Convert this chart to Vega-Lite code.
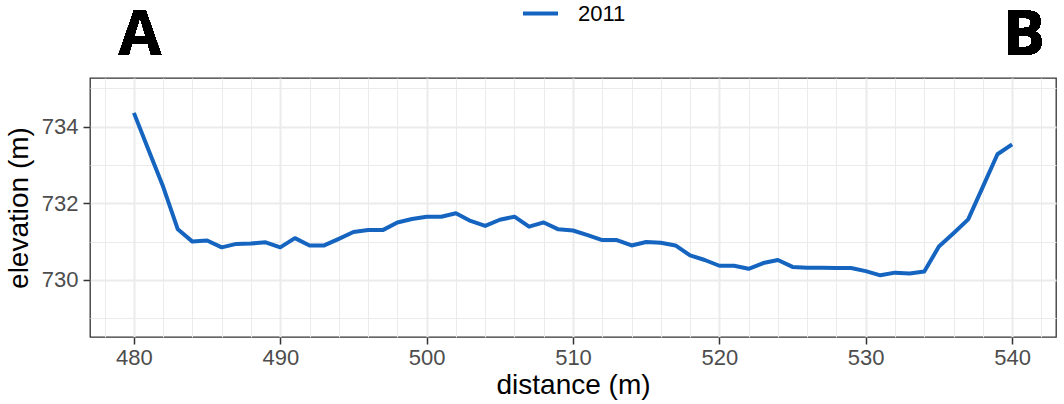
{
  "$schema": "https://vega.github.io/schema/vega-lite/v6.json",
  "width": 966,
  "height": 259,
  "autosize": "none",
  "padding": {"left": 90, "top": 78, "right": 8, "bottom": 67},
  "background": "white",
  "config": {
    "view": {"stroke": "#333333", "strokeWidth": 1.3},
    "font": "Liberation Sans"
  },
  "data": {
    "values": [
      {"distance": 480, "elevation": 734.36, "year": "2011"},
      {"distance": 481, "elevation": 733.39, "year": "2011"},
      {"distance": 482, "elevation": 732.43, "year": "2011"},
      {"distance": 483, "elevation": 731.32, "year": "2011"},
      {"distance": 484, "elevation": 731.0, "year": "2011"},
      {"distance": 485, "elevation": 731.03, "year": "2011"},
      {"distance": 486, "elevation": 730.85, "year": "2011"},
      {"distance": 487, "elevation": 730.94, "year": "2011"},
      {"distance": 488, "elevation": 730.95, "year": "2011"},
      {"distance": 489, "elevation": 730.98, "year": "2011"},
      {"distance": 490, "elevation": 730.85, "year": "2011"},
      {"distance": 491, "elevation": 731.09, "year": "2011"},
      {"distance": 492, "elevation": 730.9, "year": "2011"},
      {"distance": 493, "elevation": 730.9, "year": "2011"},
      {"distance": 494, "elevation": 731.07, "year": "2011"},
      {"distance": 495, "elevation": 731.25, "year": "2011"},
      {"distance": 496, "elevation": 731.3, "year": "2011"},
      {"distance": 497, "elevation": 731.3, "year": "2011"},
      {"distance": 498, "elevation": 731.5, "year": "2011"},
      {"distance": 499, "elevation": 731.59, "year": "2011"},
      {"distance": 500, "elevation": 731.65, "year": "2011"},
      {"distance": 501, "elevation": 731.65, "year": "2011"},
      {"distance": 502, "elevation": 731.74, "year": "2011"},
      {"distance": 503, "elevation": 731.54, "year": "2011"},
      {"distance": 504, "elevation": 731.41, "year": "2011"},
      {"distance": 505, "elevation": 731.57, "year": "2011"},
      {"distance": 506, "elevation": 731.65, "year": "2011"},
      {"distance": 507, "elevation": 731.39, "year": "2011"},
      {"distance": 508, "elevation": 731.5, "year": "2011"},
      {"distance": 509, "elevation": 731.32, "year": "2011"},
      {"distance": 510, "elevation": 731.29, "year": "2011"},
      {"distance": 511, "elevation": 731.17, "year": "2011"},
      {"distance": 512, "elevation": 731.04, "year": "2011"},
      {"distance": 513, "elevation": 731.04, "year": "2011"},
      {"distance": 514, "elevation": 730.9, "year": "2011"},
      {"distance": 515, "elevation": 730.99, "year": "2011"},
      {"distance": 516, "elevation": 730.97, "year": "2011"},
      {"distance": 517, "elevation": 730.9, "year": "2011"},
      {"distance": 518, "elevation": 730.64, "year": "2011"},
      {"distance": 519, "elevation": 730.52, "year": "2011"},
      {"distance": 520, "elevation": 730.37, "year": "2011"},
      {"distance": 521, "elevation": 730.37, "year": "2011"},
      {"distance": 522, "elevation": 730.29, "year": "2011"},
      {"distance": 523, "elevation": 730.44, "year": "2011"},
      {"distance": 524, "elevation": 730.52, "year": "2011"},
      {"distance": 525, "elevation": 730.34, "year": "2011"},
      {"distance": 526, "elevation": 730.32, "year": "2011"},
      {"distance": 527, "elevation": 730.32, "year": "2011"},
      {"distance": 528, "elevation": 730.31, "year": "2011"},
      {"distance": 529, "elevation": 730.31, "year": "2011"},
      {"distance": 530, "elevation": 730.23, "year": "2011"},
      {"distance": 531, "elevation": 730.12, "year": "2011"},
      {"distance": 532, "elevation": 730.19, "year": "2011"},
      {"distance": 533, "elevation": 730.17, "year": "2011"},
      {"distance": 534, "elevation": 730.22, "year": "2011"},
      {"distance": 535, "elevation": 730.87, "year": "2011"},
      {"distance": 536, "elevation": 731.22, "year": "2011"},
      {"distance": 537, "elevation": 731.58, "year": "2011"},
      {"distance": 538, "elevation": 732.43, "year": "2011"},
      {"distance": 539, "elevation": 733.28, "year": "2011"},
      {"distance": 540, "elevation": 733.54, "year": "2011"}
    ]
  },
  "resolve": {"axis": {"x": "independent", "y": "independent"}},
  "layer": [
    {
      "mark": {"type": "text", "font": "Open Sans", "fontWeight": "bold", "fontSize": 62, "baseline": "alphabetic", "align": "center", "dx": 6, "color": "#000000"},
      "encoding": {
        "x": {
          "datum": 480,
          "type": "quantitative",
          "scale": {"domain": [477, 543], "nice": false, "zero": false},
          "axis": {
            "orient": "bottom",
            "values": [478, 482, 484, 486, 488, 492, 494, 496, 498, 502, 504, 506, 508, 512, 514, 516, 518, 522, 524, 526, 528, 532, 534, 536, 538, 542],
            "title": null,
            "labels": false,
            "ticks": false,
            "domain": false,
            "grid": true,
            "gridColor": "#EBEBEB",
            "gridWidth": 1
          }
        },
        "y": {
          "datum": 735.87,
          "type": "quantitative",
          "scale": {"domain": [728.51, 735.27], "nice": false, "zero": false},
          "axis": {
            "orient": "left",
            "values": [729, 731, 733, 735],
            "title": null,
            "labels": false,
            "ticks": false,
            "domain": false,
            "grid": true,
            "gridColor": "#EBEBEB",
            "gridWidth": 1
          }
        },
        "text": {"value": "A"}
      }
    },
    {
      "mark": {"type": "line", "strokeWidth": 4, "strokeJoin": "round", "strokeCap": "butt"},
      "encoding": {
        "x": {
          "field": "distance",
          "type": "quantitative",
          "axis": {
            "orient": "bottom",
            "values": [480, 490, 500, 510, 520, 530, 540],
            "title": "distance (m)",
            "titleFontSize": 28,
            "titleFontWeight": "normal",
            "titleColor": "#000000",
            "titlePadding": 3,
            "labelFontSize": 22,
            "labelColor": "#4D4D4D",
            "labelPadding": 3,
            "labelFlush": false,
            "domain": false,
            "tickColor": "#333333",
            "tickSize": 7,
            "tickWidth": 1.5,
            "grid": true,
            "gridColor": "#EBEBEB",
            "gridWidth": 2
          }
        },
        "y": {
          "field": "elevation",
          "type": "quantitative",
          "axis": {
            "orient": "left",
            "values": [730, 732, 734],
            "title": "elevation (m)",
            "titleFontSize": 28,
            "titleFontWeight": "normal",
            "titleColor": "#000000",
            "titlePadding": 8,
            "labelFontSize": 22,
            "labelColor": "#4D4D4D",
            "labelPadding": 5,
            "labelFlush": false,
            "domain": false,
            "tickColor": "#333333",
            "tickSize": 7,
            "tickWidth": 1.5,
            "grid": true,
            "gridColor": "#EBEBEB",
            "gridWidth": 2
          }
        },
        "color": {
          "field": "year",
          "type": "nominal",
          "scale": {"domain": ["2011"], "range": ["#1565C0"]},
          "legend": {
            "orient": "none",
            "legendX": 431,
            "legendY": -84,
            "title": null,
            "symbolType": "stroke",
            "symbolSize": 1225,
            "symbolStrokeWidth": 4,
            "labelFontSize": 22,
            "labelColor": "#000000",
            "labelOffset": 18
          }
        }
      }
    },
    {
      "mark": {"type": "text", "font": "Open Sans", "fontWeight": "bold", "fontSize": 62, "baseline": "alphabetic", "align": "center", "dx": 12, "color": "#000000"},
      "encoding": {
        "x": {"datum": 540, "type": "quantitative", "axis": null},
        "y": {"datum": 735.87, "type": "quantitative", "axis": null},
        "text": {"value": "B"}
      }
    }
  ]
}
